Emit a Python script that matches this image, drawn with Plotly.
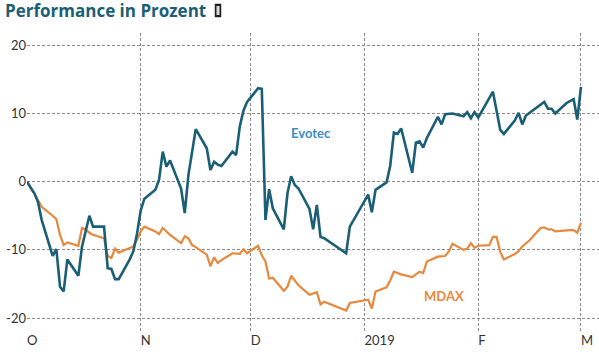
import plotly.graph_objects as go

dates = [
    "2018-10-01", "2018-10-02", "2018-10-03", "2018-10-04", "2018-10-05",
    "2018-10-08", "2018-10-09", "2018-10-10", "2018-10-11", "2018-10-12",
    "2018-10-15", "2018-10-16", "2018-10-17", "2018-10-18", "2018-10-19",
    "2018-10-22", "2018-10-23", "2018-10-24", "2018-10-25", "2018-10-26",
    "2018-10-29", "2018-10-30", "2018-10-31",
    "2018-11-01", "2018-11-02", "2018-11-05", "2018-11-06", "2018-11-07",
    "2018-11-08", "2018-11-09", "2018-11-12", "2018-11-13", "2018-11-14",
    "2018-11-15", "2018-11-16", "2018-11-19", "2018-11-20", "2018-11-21",
    "2018-11-22", "2018-11-23", "2018-11-26", "2018-11-27", "2018-11-28",
    "2018-11-29", "2018-11-30",
    "2018-12-03", "2018-12-04", "2018-12-05", "2018-12-06", "2018-12-07",
    "2018-12-10", "2018-12-11", "2018-12-12", "2018-12-13", "2018-12-14",
    "2018-12-17", "2018-12-18", "2018-12-19", "2018-12-20", "2018-12-21",
    "2018-12-27", "2018-12-28",
    "2019-01-02", "2019-01-03", "2019-01-04", "2019-01-07", "2019-01-08",
    "2019-01-09", "2019-01-10", "2019-01-11", "2019-01-14", "2019-01-15",
    "2019-01-16", "2019-01-17", "2019-01-18", "2019-01-21", "2019-01-22",
    "2019-01-23", "2019-01-24", "2019-01-25", "2019-01-28", "2019-01-29",
    "2019-01-30", "2019-01-31",
    "2019-02-01", "2019-02-04", "2019-02-05", "2019-02-06", "2019-02-07",
    "2019-02-08", "2019-02-11", "2019-02-12", "2019-02-13", "2019-02-14",
    "2019-02-15", "2019-02-18", "2019-02-19", "2019-02-20", "2019-02-21",
    "2019-02-22", "2019-02-25", "2019-02-26", "2019-02-27", "2019-02-28",
    "2019-03-01",
]

evotec = [
    0, -0.8, -1.7, -3.0, -5.6,
    -10.9, -9.9, -15.4, -16.1, -11.4,
    -13.8, -9.5, -7.0, -5.0, -6.6,
    -6.6, -12.7, -12.8, -14.3, -14.3,
    -11.4, -10.2, -7.6,
    -4.2, -2.5, -1.2, 0.3, 4.4,
    2.2, 3.1, -1.0, -4.6, 1.0,
    4.5, 7.7, 4.9, 1.7, 2.9,
    2.5, 2.3, 4.4, 3.9, 8.1,
    10.4, 11.7,
    13.7, 13.6, -5.6, -1.1, -3.9,
    -7.0, -1.7, 0.8, -0.5, -1.0,
    -4.0, -7.0, -3.4, -8.1, -8.3,
    -10.5, -6.6,
    -1.9, -4.5, -1.2, -0.1, 2.3,
    7.2, 7.0, 7.8, 1.3, 5.7,
    5.9, 5.0, 6.4, 9.5, 8.4,
    9.9, 9.9, 10.0, 9.6, 10.2,
    9.3, 10.2,
    9.4, 12.2, 13.2, 10.4, 7.6,
    7.0, 9.0, 10.1, 8.4, 9.7,
    10.1, 11.4, 11.7, 10.7, 10.7,
    10.0, 11.5, 11.8, 12.1, 9.1,
    13.9,
]

mdax = [
    0, -1.0, -1.7, -2.8, -3.7,
    -5.0, -5.5, -7.8, -9.3, -8.9,
    -9.4, -6.8, -7.0, -7.5, -7.8,
    -8.3, -10.9, -11.2, -9.8, -10.4,
    -9.7, -9.5, -8.5,
    -7.3, -6.6, -7.3, -7.7, -6.8,
    -7.3, -7.8, -9.0, -8.0, -8.3,
    -9.3, -9.6, -10.7, -12.4, -11.1,
    -11.9, -11.5, -10.5, -10.6, -10.6,
    -9.9, -10.5,
    -9.4, -10.8, -11.7, -14.2, -14.1,
    -16.0, -15.4, -13.8, -14.5, -15.2,
    -16.6, -16.4, -16.2, -18.0, -17.6,
    -18.9, -17.8,
    -17.3, -18.6, -16.1, -15.5, -14.5,
    -13.2, -13.4, -13.6, -14.0, -13.6,
    -13.2, -13.4, -11.7, -11.0, -10.9,
    -10.9, -10.2, -9.1, -10.0, -9.8,
    -9.0, -9.7,
    -9.4, -9.3, -8.1, -8.1, -10.3,
    -11.4, -10.6, -10.2, -9.5, -9.0,
    -8.6, -6.8, -6.7, -7.0, -7.0,
    -7.3, -7.1, -7.1, -7.1, -7.5,
    -6.0,
]

tick_vals = ["2018-10-01", "2018-11-01", "2018-12-01", "2019-01-01", "2019-02-01", "2019-03-01"]
tick_text = ["O", "N", "D", "2019", "F", "M"]
y_ticks = [-20, -10, 0, 10, 20]
y_tick_text = ["-20", "-10", "0", "10", "20"]

EVO_COLOR = "#1b5f76"
MDAX_COLOR = "#e8883c"
GRID = "#8c8c8c"
FONT = "Lato, 'Open Sans', sans-serif"
TITLE_FONT = "'Open Sans', Lato, sans-serif"

fig = go.Figure()
fig.add_trace(go.Scatter(x=dates, y=mdax, mode="lines", name="MDAX",
                         line=dict(color=MDAX_COLOR, width=2.2), hoverinfo="skip"))
fig.add_trace(go.Scatter(x=dates, y=evotec, mode="lines", name="Evotec",
                         line=dict(color=EVO_COLOR, width=2.6), hoverinfo="skip"))

fig.add_annotation(x="2018-12-17 10:00", y=7.1, text="<b>Evotec</b>", showarrow=False,
                   font=dict(family=FONT, size=13, color="#3b8fc4"))
fig.add_annotation(x="2019-01-22 19:00", y=-16.7, text="<b>MDAX</b>", showarrow=False,
                   font=dict(family=FONT, size=13, color=MDAX_COLOR))

# small icon glyph next to the title
fig.add_shape(type="rect", xref="paper", yref="paper",
              x0=(215 - 27) / 572, x1=(221 - 27) / 572,
              y0=1 + (33 - 17) / 298, y1=1 + (33 - 4) / 298,
              fillcolor="#222222", line=dict(color="#222222", width=0.5))
fig.add_shape(type="rect", xref="paper", yref="paper",
              x0=(216.5 - 27) / 572, x1=(219.5 - 27) / 572,
              y0=1 + (33 - 15) / 298, y1=1 + (33 - 6) / 298,
              fillcolor="#dddddd", line=dict(width=0))

fig.update_layout(
    width=599, height=352,
    margin=dict(l=27, r=0, t=33, b=21),
    paper_bgcolor="white", plot_bgcolor="white",
    showlegend=False,
    title=dict(text="<b>Performance in Prozent</b>", x=5 / 599, xanchor="left",
               xref="container", yref="container", y=1 - 11 / 352, yanchor="middle",
               font=dict(family=TITLE_FONT, size=17, color="#1a5f75")),
    font=dict(family=FONT, size=13, color="#333333"),
)
fig.update_xaxes(
    type="date", range=["2018-10-01", "2019-03-05 22:00"],
    tickvals=tick_vals, ticktext=tick_text,
    ticklabelposition="outside right",
    showgrid=True, gridcolor=GRID, griddash="3px,2px", gridwidth=1,
    showline=False, zeroline=False, ticks="",
    tickfont=dict(family=FONT, size=13, color="#333333"),
)
fig.update_yaxes(
    range=[-21.9, 21.8], tickvals=y_ticks, ticktext=y_tick_text,
    showgrid=True, gridcolor=GRID, griddash="3px,2px", gridwidth=1,
    showline=False, zeroline=False, ticks="",
    tickfont=dict(family=FONT, size=13, color="#333333"),
)

fig.write_html("out.html")
